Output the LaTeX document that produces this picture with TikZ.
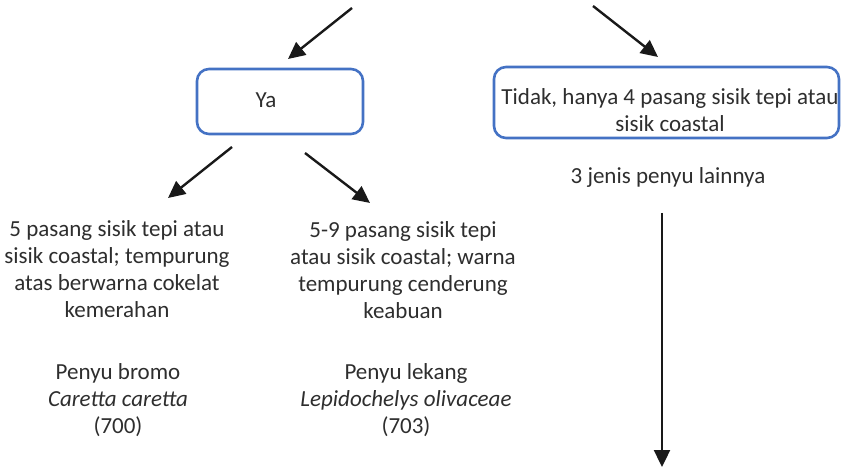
\documentclass[tikz,border=0pt]{standalone}
\usepackage{fontspec}
\setmainfont{Carlito}
\usetikzlibrary{arrows.meta}
\definecolor{boxblue}{HTML}{4472C4}
\definecolor{txtgray}{HTML}{2E2E2E}
\begin{document}
\begin{tikzpicture}[x=1pt,y=-1pt,
  box/.style={draw=boxblue, line width=2.6pt, rounded corners=12pt, inner sep=0pt},
  txt/.style={text=txtgray, font=\fontsize{23}{27}\selectfont, align=center, inner sep=0pt, anchor=base},
  arr/.style={draw=black!90, line width=2.4pt, -{Triangle[length=17pt,width=16pt]}}]
\useasboundingbox (0,0) rectangle (841,470);
% coordinates for connector ends
\coordinate (t1) at (352,8);
\coordinate (t1e) at (288,59);
\coordinate (t2) at (593,6);
\coordinate (t2e) at (658,57);
\coordinate (y1) at (232,147);
\coordinate (y1e) at (168,198);
\coordinate (y2) at (305,153);
\coordinate (y2e) at (370,203);
\coordinate (v1) at (662,213);
\coordinate (v1e) at (662,467);
% boxes
\node[box, minimum width=166pt, minimum height=65pt] (ya) at (280,101.5) {};
\node[txt] (yat) at (266,108) {Ya};
\node[box, minimum width=345pt, minimum height=71pt] (tidak) at (666.5,102.5) {};
\node[txt] (tidakt) at (670,132) {Tidak, hanya 4 pasang sisik tepi atau\\sisik coastal};
\node[txt] (lain) at (668,184) {3 jenis penyu lainnya};
% descriptions (base anchor = baseline of last line)
\node[txt] (d1) at (117,318) {5 pasang sisik tepi atau\\sisik coastal; tempurung\\atas berwarna cokelat\\kemerahan};
\node[txt] (d2) at (403,319) {5-9 pasang sisik tepi\\atau sisik coastal; warna\\tempurung cenderung\\keabuan};
\node[txt] (s1) at (118,433) {Penyu bromo\\\textit{Caretta caretta}\\(700)};
\node[txt] (s2) at (406,433) {Penyu lekang\\\textit{Lepidochelys olivaceae}\\(703)};
% arrows
\draw[arr] (t1) -- (t1e);
\draw[arr] (t2) -- (t2e);
\draw[arr] (y1) -- (y1e);
\draw[arr] (y2) -- (y2e);
\draw[arr] (v1) -- (v1e);
\end{tikzpicture}
\end{document}
